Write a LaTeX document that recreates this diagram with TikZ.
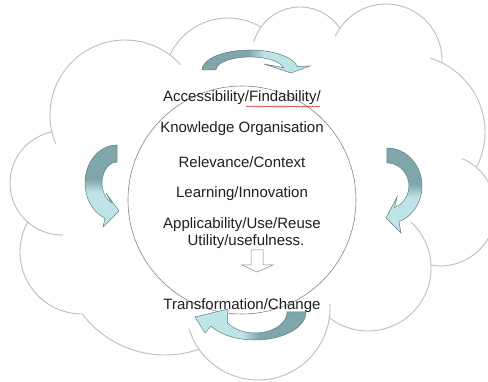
\documentclass[tikz,border=0pt]{standalone}
\usepackage{fontspec}
\setmainfont{Liberation Sans}
\usetikzlibrary{decorations.pathmorphing}
\definecolor{arrdk}{HTML}{7FA6AB}
\definecolor{arrlt}{HTML}{BFE4E8}
\definecolor{arrln}{HTML}{5E7F84}
\definecolor{cloudln}{HTML}{BDBDBD}
\definecolor{ringln}{HTML}{858585}
\pgfdeclarehorizontalshading{twotone}{100bp}{color(0bp)=(arrdk); color(46bp)=(arrdk); color(54bp)=(arrlt); color(100bp)=(arrlt)}
\begin{document}
\begin{tikzpicture}[x=1pt,y=1pt,
  lbl/.style={font=\fontsize{15}{18}\selectfont, text=black!88, inner sep=0pt},
  cloudarc/.style={draw=cloudln, line width=0.9pt},
  curvarr/.style={draw=arrln, line width=0.5pt, shading=twotone},
]
\useasboundingbox (0,0) rectangle (488,382);
\fill[white] (0,0) rectangle (488,382);

% cloud: lobes drawn as arcs from junction to junction (with small inner tails)
\foreach \cx/\cy/\r/\sa/\ea in {125/267/75/202.4/42, 228/300/64/155/59.07, 300/327/48/164.4/33.86,
  386/322/56/154.9/-2.95, 408/250/77/73/-27.39, 440/172/56/67.2/-99.31, 368/114/63/47.4/-127.86,
  258/74/72/3.1/-163.3, 165/131/104/-70.92/-142.71, 82/130/62/-89.76/-208.85, 62/199/52/-88.9/-258.86}
  \draw[cloudarc] ([shift={(\cx,\cy)}]\sa:\r) arc[start angle=\sa, end angle=\ea, radius=\r];

% central circle
\node[circle, draw=ringln, line width=0.6pt, minimum size=228pt, inner sep=0pt] (ring) at (242,182) {};

% curved arrows
\path[curvarr, shading angle=0] (202,312) arc[start angle=180, end angle=10, x radius=48, y radius=20]
  -- (310,316) -- (291,309) -- (264,318) -- (283.5,314.3)
  arc[start angle=10, end angle=180, x radius=34, y radius=13] -- cycle;
\path[curvarr, shading angle=-90] (117,237) arc[start angle=90, end angle=248, x radius=32, y radius=38]
  -- (103,155) -- (119,171) -- (106,189) -- (111.4,179.5)
  arc[start angle=248, end angle=90, x radius=15, y radius=21] -- cycle;
\path[curvarr, shading angle=-90] (387,234) arc[start angle=90, end angle=-70, x radius=35, y radius=38]
  -- (401,149) -- (386,164) -- (397,185) -- (394.5,174.4)
  arc[start angle=-70, end angle=90, x radius=22, y radius=23] -- cycle;
\path[curvarr, shading angle=180] (306,70) arc[start angle=0, end angle=-150, x radius=51, y radius=28]
  -- (205,49) -- (195,65) -- (228,73) -- (227.3,59.5)
  arc[start angle=-150, end angle=0, x radius=32, y radius=21] -- cycle;

% texts
\node[lbl] (t1) at (242,284) {Accessibility/Findability/};
\node[lbl] (t2) at (242,253) {Knowledge Organisation};
\node[lbl] (t3) at (242,220) {Relevance/Context};
\node[lbl] (t4) at (242,188) {Learning/Innovation};
\node[lbl] (t5) at (242,157) {Applicability/Use/Reuse};
\node[lbl] (t6) at (246,140) {Utility/usefulness.};
\node[lbl] (t7) at (242,76) {Transformation/Change};

% spell-check underline
\draw[red!75!black, line width=0.4pt, decorate, decoration={snake, amplitude=0.6pt, segment length=3pt}] (246,275.5) -- (320,275.5);

% hollow down arrow
\draw[draw=ringln, fill=white, line width=0.5pt] (251,132) -- (263,132) -- (263,117) -- (273,117) -- (257,110) -- (242,117) -- (251,117) -- cycle;
\end{tikzpicture}
\end{document}
